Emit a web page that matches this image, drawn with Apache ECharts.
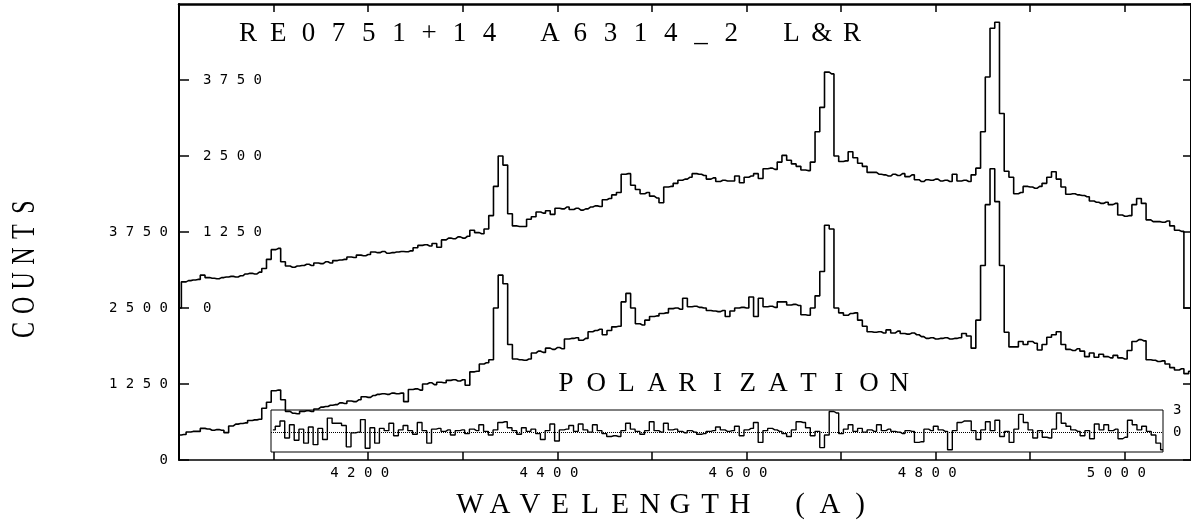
<!DOCTYPE html>
<html>
<head>
<meta charset="utf-8">
<script src="https://cdn.jsdelivr.net/npm/echarts@6/dist/echarts.min.js"></script>
<style>
  html, body { margin: 0; padding: 0; background: #fff; }
  #chart { width: 1191px; height: 521px; }
</style>
</head>
<body>
<div id="chart"></div>
<script>
// Spectra of RE0751+14, sampled every 5 A from 4000 A
const WAVE_START = 4000;
const WAVE_STEP = 5;

// Lower spectrum (counts, read on the outer left scale)
const countsLower = [
  410,420,460,470,470,520,510,490,500,490,
  450,560,590,600,610,650,660,670,850,950,
  1140,1150,990,800,770,760,800,810,800,840,
  870,880,900,910,940,930,970,960,990,1040,
  1030,1060,1080,1090,1080,1100,1090,1100,960,1160,
  1170,1150,1250,1270,1240,1280,1270,1310,1320,1300,
  1320,1230,1450,1460,1580,1600,1650,2500,3040,2900,
  1900,1660,1650,1640,1660,1760,1790,1770,1840,1820,
  1850,1830,1990,2000,2010,1970,2000,2110,2130,2150,
  2060,2130,2190,2200,2600,2740,2500,2240,2220,2300,
  2360,2370,2410,2420,2490,2500,2480,2660,2520,2530,
  2510,2500,2460,2450,2440,2460,2360,2450,2500,2510,
  2500,2680,2360,2660,2520,2530,2510,2600,2600,2550,
  2560,2540,2390,2380,2500,2700,3100,3860,3800,2500,
  2420,2380,2410,2420,2300,2200,2110,2100,2110,2090,
  2140,2090,2120,2080,2070,2090,2060,2030,2000,2010,
  1990,2000,2010,1990,2000,2010,2080,2040,1840,2300,
  3200,4200,4790,4250,3200,2100,1860,1860,1950,1900,
  1950,1920,1810,1900,2020,2060,2110,1900,1820,1800,
  1830,1790,1700,1760,1690,1740,1700,1680,1720,1680,
  1660,1800,1950,1980,1960,1650,1640,1620,1630,1580,
  1520,1480,1500,1420,1460
];

// Upper spectrum (counts, read on the inner left scale)
const countsUpper = [
  0,430,450,460,470,540,500,490,480,500,
  510,520,510,530,560,570,560,590,650,800,
  960,980,760,690,670,690,700,720,700,740,
  730,760,740,780,790,800,840,830,870,860,
  880,920,910,930,900,910,920,930,925,940,
  990,1030,1040,1020,1060,1000,1120,1150,1140,1170,
  1150,1180,1280,1240,1220,1300,1520,2000,2500,2350,
  1550,1350,1340,1340,1460,1500,1580,1560,1600,1540,
  1640,1630,1660,1620,1640,1610,1630,1660,1680,1670,
  1780,1800,1860,1900,2200,2210,2020,1950,1880,1900,
  1840,1810,1730,1990,2000,2050,2100,2120,2150,2210,
  2200,2180,2120,2140,2080,2100,2090,2090,2170,2060,
  2150,2170,2210,2130,2290,2300,2280,2400,2510,2430,
  2370,2330,2270,2260,2400,2900,3300,3880,3850,2500,
  2410,2420,2570,2470,2380,2330,2230,2230,2200,2190,
  2170,2200,2180,2210,2160,2190,2110,2080,2110,2100,
  2120,2090,2100,2080,2200,2090,2100,2080,2190,2300,
  2900,3800,4600,4700,3200,2250,2150,1880,1900,2000,
  1990,1970,2000,2050,2150,2240,2120,1990,1870,1880,
  1860,1850,1830,1760,1740,1720,1740,1700,1720,1530,
  1510,1520,1700,1800,1720,1450,1420,1420,1410,1430,
  1350,1280,1260,0,0
];
// The upper spectrum sits 2500 counts above the lower one
const UPPER_OFFSET = 2500;

// Polarization (%), every 5 A from 4100 A
const POL_START = 4100;
const polarization = [
  0.3,0.8,1.5,-0.8,1.0,-1.1,0.4,-1.5,0.7,-1.7,
  0.5,-1.0,1.9,1.2,1.2,0.9,-2.0,-0.1,0.0,1.7,
  -2.2,0.6,-1.5,0.5,0.2,1.2,-0.5,0.3,0.9,0.2,
  -0.3,1.3,0.2,-1.5,0.4,0.5,0.1,0.3,-0.4,0.2,
  0.3,-0.2,0.4,0.2,1.0,0.1,-0.4,0.3,1.3,1.4,
  0.6,0.2,-0.3,0.6,0.1,0.4,-0.2,-1.0,0.2,1.1,
  -1.2,0.3,0.4,0.9,0.1,1.1,0.3,0.0,1.0,0.2,
  -0.2,-0.6,-0.5,-0.6,0.2,1.2,0.4,0.1,-0.3,0.2,
  1.4,0.2,0.0,1.2,0.3,0.4,0.1,-0.1,0.2,0.0,
  -0.3,-0.2,0.1,0.2,0.7,0.3,0.1,0.2,0.8,-0.5,
  0.3,0.5,1.3,-1.4,0.2,0.5,0.3,0.1,-0.2,-0.6,
  0.3,1.4,1.3,0.6,-0.5,0.1,-2.1,-0.4,2.8,2.6,
  -0.2,0.4,1.0,0.1,0.5,0.0,0.3,0.1,1.0,0.2,
  0.4,0.1,0.0,-0.2,0.2,0.1,-1.4,-1.3,0.4,0.2,
  0.8,0.3,0.1,-2.4,0.2,1.3,1.5,1.5,0.2,-1.0,
  0.3,1.4,0.2,1.6,-0.6,0.1,-1.4,0.4,2.4,1.3,
  0.3,-0.8,0.2,-0.7,-0.8,0.4,2.6,1.2,0.8,0.3,
  0.1,-0.5,0.2,-0.9,1.1,0.3,1.0,0.2,0.4,-0.9,
  -0.7,1.6,1.0,0.3,0.8,0.1,-0.4,-1.5,-2.4
];

// Axis ranges and labelled ticks
const WAVE_MIN = 4000, WAVE_MAX = 5070, WAVE_TICK = 100;
const waveLabels = [4200, 4400, 4600, 4800, 5000];
const COUNT_MAX = 7500, COUNT_TICK = 1250;
const countLabels = [0, 1250, 2500, 3750];
const POL_WAVE_MIN = 4098, POL_WAVE_MAX = 5040;
const POL_MIN = -2.7, POL_MAX = 3;
const polLabels = [0, 3];

const TITLE = 'RE0751+14 A6314_2 L&R';
const POL_TITLE = 'POLARIZATION';
const X_NAME = 'WAVELENGTH (A)';
const Y_NAME = 'COUNTS';

const INK = '#000';
const MONO = '"DejaVu Sans Mono", "Liberation Mono", monospace';
const SERIF = '"Liberation Serif", "DejaVu Serif", serif';

// Plotter-style labels: digits spread apart
const spaced = v => String(v).split('').join(' ');

const lowerData = countsLower.map((v, i) => [WAVE_START + i * WAVE_STEP, v]);
const upperData = countsUpper.map((v, i) => [WAVE_START + i * WAVE_STEP, v + UPPER_OFFSET]);
const polData = polarization.map((v, i) => [POL_START + i * WAVE_STEP, v]);

// Fixed-pitch lettering, one text element per character
function letters(str, x0, y0, dx, dy, size, extra) {
  const out = [];
  str.split('').forEach((ch, i) => {
    if (ch === ' ') return;
    out.push(Object.assign({
      type: 'text',
      x: x0 + i * dx,
      y: y0 + i * dy,
      silent: true,
      style: {
        text: ch,
        fill: INK,
        font: 'normal ' + size + 'px ' + SERIF,
        align: 'center', verticalAlign: 'middle',
        textAlign: 'center', textVerticalAlign: 'middle'
      }
    }, extra || {}));
  });
  return out;
}

const graphics = []
  .concat(letters(TITLE, 248, 34, 30.2, 0, 27))
  .concat(letters(POL_TITLE, 566, 384, 30.3, 0, 27))
  .concat(letters(X_NAME, 470, 505, 30, 0, 29))
  .concat(letters(Y_NAME, 25, 330, 0, -24.6, 24, { rotation: Math.PI / 2, scaleY: 1.4 }));

const tickFont = { fontFamily: MONO, fontSize: 14, color: INK };

const chart = echarts.init(document.getElementById('chart'), null, { renderer: 'canvas' });
chart.setOption({
  backgroundColor: '#fff',
  animation: false,
  grid: [
    { left: 179, top: 4, right: 0, height: 456 },
    { left: 271, top: 410, width: 892, height: 42, show: true,
      borderColor: INK, borderWidth: 1, backgroundColor: 'transparent' }
  ],
  xAxis: [
    {
      type: 'value', gridIndex: 0, position: 'bottom',
      min: WAVE_MIN, max: WAVE_MAX, interval: WAVE_TICK,
      axisLine: { show: true, onZero: false, lineStyle: { color: INK, width: 1.5 } },
      axisTick: { show: true, inside: true, length: 8, lineStyle: { color: INK, width: 1.5 } },
      axisLabel: Object.assign({
        margin: 6, showMaxLabel: false,
        formatter: v => waveLabels.includes(v) ? spaced(v) + '  ' : ''
      }, tickFont),
      splitLine: { show: false }
    },
    {
      type: 'value', gridIndex: 0, position: 'top',
      min: WAVE_MIN, max: WAVE_MAX, interval: WAVE_TICK,
      axisLine: { show: true, onZero: false, lineStyle: { color: INK, width: 2.5 } },
      axisTick: { show: true, inside: true, length: 8, lineStyle: { color: INK, width: 1.5 } },
      axisLabel: { show: false },
      splitLine: { show: false }
    },
    {
      type: 'value', gridIndex: 1,
      min: POL_WAVE_MIN, max: POL_WAVE_MAX,
      axisLine: { show: false }, axisTick: { show: false },
      axisLabel: { show: false }, splitLine: { show: false }
    }
  ],
  yAxis: [
    {
      type: 'value', gridIndex: 0, position: 'left',
      min: 0, max: COUNT_MAX, interval: COUNT_TICK,
      axisLine: { show: true, onZero: false, lineStyle: { color: INK, width: 2 } },
      axisTick: { show: true, inside: true, length: 10, lineStyle: { color: INK, width: 1.5 } },
      axisLabel: Object.assign({
        margin: 11, showMaxLabel: false,
        formatter: v => countLabels.includes(v) ? spaced(v) : ''
      }, tickFont),
      splitLine: { show: false }
    },
    {
      type: 'value', gridIndex: 0, position: 'left',
      min: 0, max: COUNT_MAX, interval: COUNT_TICK,
      axisLine: { show: false }, axisTick: { show: false },
      axisLabel: Object.assign({
        inside: true, margin: 24, showMaxLabel: false,
        formatter: v => countLabels.includes(v - UPPER_OFFSET) ? spaced(v - UPPER_OFFSET) : ''
      }, tickFont),
      splitLine: { show: false }
    },
    {
      type: 'value', gridIndex: 0, position: 'right',
      min: 0, max: COUNT_MAX, interval: COUNT_TICK,
      axisLine: { show: true, onZero: false, lineStyle: { color: INK, width: 2 } },
      axisTick: { show: true, inside: true, length: 8, lineStyle: { color: INK, width: 1.5 } },
      axisLabel: { show: false },
      splitLine: { show: false }
    },
    {
      type: 'value', gridIndex: 1, position: 'right',
      min: POL_MIN, max: POL_MAX,
      axisLine: { show: false }, axisTick: { show: false },
      axisLabel: Object.assign({
        margin: 10, customValues: polLabels,
        formatter: v => String(v)
      }, tickFont),
      splitLine: { show: false }
    }
  ],
  series: [
    {
      name: 'lower', type: 'line', xAxisIndex: 0, yAxisIndex: 0,
      data: lowerData, step: 'middle', showSymbol: false, symbol: 'none',
      lineStyle: { color: INK, width: 1.6 }, silent: true
    },
    {
      name: 'upper', type: 'line', xAxisIndex: 0, yAxisIndex: 0,
      data: upperData, step: 'middle', showSymbol: false, symbol: 'none',
      lineStyle: { color: INK, width: 1.6 }, silent: true
    },
    {
      name: 'polarization', type: 'line', xAxisIndex: 2, yAxisIndex: 3,
      data: polData, step: 'middle', showSymbol: false, symbol: 'none',
      lineStyle: { color: INK, width: 1.4 }, silent: true,
      markLine: {
        silent: true, symbol: ['none', 'none'],
        label: { show: false },
        lineStyle: { color: INK, type: 'dotted', width: 1 },
        data: [{ yAxis: 0 }]
      }
    }
  ],
  graphic: graphics
});
</script>
</body>
</html>
